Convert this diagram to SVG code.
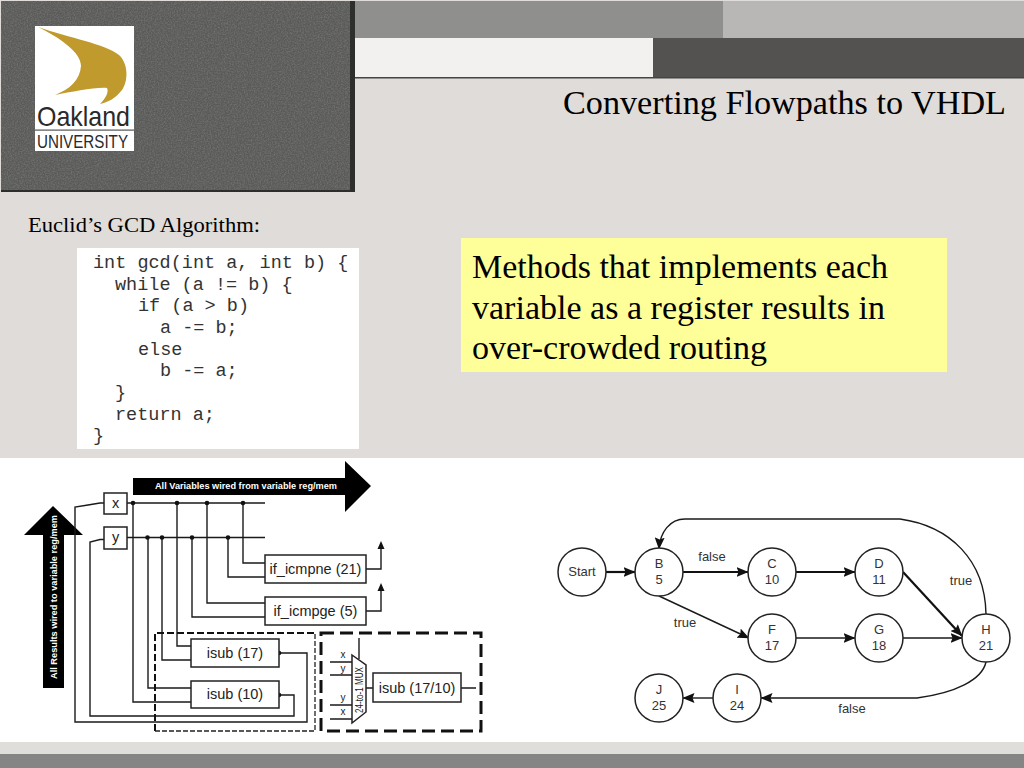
<svg xmlns="http://www.w3.org/2000/svg" width="1024" height="768" viewBox="0 0 1024 768">
<style>
.wire{fill:none;stroke:#1a1a1a;stroke-width:1.4}
.thick{fill:none;stroke:#111;stroke-width:2.2}
.box{fill:#fff;stroke:#222;stroke-width:1.5}
.node{fill:#fff;stroke:#222;stroke-width:1.5}
.lab{font-family:"Liberation Sans",Arial,sans-serif;font-size:13px;fill:#333;text-anchor:middle}
.blab{font-family:"Liberation Sans",Arial,sans-serif;font-size:14.500px;fill:#222;text-anchor:middle}
.small{font-family:"Liberation Sans",Arial,sans-serif;font-size:10px;fill:#222;text-anchor:middle}
.ser{font-family:"Liberation Serif","Times New Roman",serif;fill:#000}
.logo{font-family:"Liberation Sans",Arial,sans-serif;fill:#2a2a2a}
.code{font-family:"Liberation Mono","Courier New",monospace;font-size:18.500px;fill:#333}
.bar{font-family:"Liberation Sans",Arial,sans-serif;font-weight:bold;fill:#fff;text-anchor:middle}
</style>
<defs>
<marker id="ah" viewBox="0 0 12 10" refX="11.500" refY="5" markerWidth="12" markerHeight="10" markerUnits="userSpaceOnUse" orient="auto"><path d="M0 0L12 5L0 10L2 5Z" fill="#111"/></marker>
<filter id="grain" x="0" y="0" width="100%" height="100%"><feTurbulence type="fractalNoise" baseFrequency="0.7" numOctaves="2" seed="4"/><feColorMatrix type="matrix" values="0 0 0 0 .42 0 0 0 0 .42 0 0 0 0 .42 1.600 0 0 0 -.55"/></filter>
</defs>

<g id="background">
<rect width="1024" height="768" fill="#e0dcd9"/>
<rect x="0" y="458" width="1024" height="284" fill="#fff"/>
<rect x="0" y="742" width="1024" height="12" fill="#dfdeda"/>
<rect x="0" y="754" width="1024" height="14" fill="#858585"/>
<rect x="1" y="1" width="350" height="190" fill="#5a5b59"/>
<rect x="1" y="1" width="350" height="190" filter="url(#grain)" opacity=".35"/>
<rect x="350" y="1" width="5" height="191" fill="#2c2f2c"/>
<rect x="1" y="190" width="354" height="2" fill="#2c2f2c"/>
<rect x="355" y="1" width="368" height="37" fill="#8f8f8d"/>
<rect x="723" y="1" width="301" height="37" fill="#b9b7b5"/>
<rect x="355" y="38" width="298" height="39" fill="#f2f1f0"/>
<rect x="653" y="38" width="371" height="39" fill="#545250"/>
<rect x="355" y="77" width="669" height="1.500" fill="#444"/>
</g>

<g id="logo">
<rect x="35" y="26" width="99" height="125" fill="#fff"/>
<path d="M38 27C70 38 105 44 119 55C129 64 128 82 122 90C115 99 108 102 100 104C106 98 109 92 107 88C95 87 72 92 55 95C70 89 80 80 81 66C81 52 60 38 38 27Z" fill="#c09a2c"/>
<text x="37" y="126" class="logo" font-size="28" textLength="93" lengthAdjust="spacingAndGlyphs">Oakland</text>
<rect x="35" y="129.500" width="99" height="1.200" fill="#555"/>
<text x="37" y="148" class="logo" font-size="18" textLength="91" lengthAdjust="spacingAndGlyphs">UNIVERSITY</text>
</g>

<g id="title"><text x="563" y="114" class="ser" font-size="34" textLength="443" lengthAdjust="spacingAndGlyphs">Converting Flowpaths to VHDL</text></g>
<g id="subtitle"><text x="28" y="232" class="ser" font-size="21" textLength="232" lengthAdjust="spacingAndGlyphs">Euclid’s GCD Algorithm:</text></g>

<g id="code">
<rect x="77" y="248" width="282" height="201" fill="#fff"/>
<text x="93" y="268" class="code">int gcd(int a, int b) {</text>
<text x="115" y="290" class="code">while (a != b) {</text>
<text x="138" y="311" class="code">if (a &gt; b)</text>
<text x="160" y="333" class="code">a -= b;</text>
<text x="138" y="355" class="code">else</text>
<text x="160" y="376" class="code">b -= a;</text>
<text x="115" y="398" class="code">}</text>
<text x="115" y="420" class="code">return a;</text>
<text x="93" y="441" class="code">}</text>
</g>

<g id="note">
<rect x="461" y="238" width="486" height="134" fill="#ffff99"/>
<text x="472" y="278" class="ser" font-size="34" textLength="416" lengthAdjust="spacingAndGlyphs">Methods that implements each</text>
<text x="472" y="319" class="ser" font-size="34" textLength="413" lengthAdjust="spacingAndGlyphs">variable as a register results in</text>
<text x="472" y="359" class="ser" font-size="34" textLength="295" lengthAdjust="spacingAndGlyphs">over-crowded routing</text>
</g>

<g id="bus-arrows">
<path d="M133 478H345V461L371 486L345 512V495H133Z" fill="#000"/>
<text x="246" y="489" class="bar" font-size="9" textLength="182" lengthAdjust="spacingAndGlyphs">All Variables wired from variable reg/mem</text>
<path d="M53 506L83 535H64V688H43V535H24Z" fill="#000"/>
<text transform="translate(57 597) rotate(-90)" class="bar" font-size="9" textLength="164" lengthAdjust="spacingAndGlyphs">All Results wired to variable reg/mem</text>
</g>

<g id="connectors">
<g id="circuit-wires">
<path class="wire" d="M127 503H265M127 537.500H265"/>
<path class="wire" d="M104 503H100L88 505L75 507V722H307V653H279"/>
<path class="wire" d="M104 539.500H100L90 542V716H294V695H279"/>
<path class="wire" d="M133 503V702H191M148 537.500V688H191M162 537.500V660H191M177 503V646H191"/>
<path class="wire" d="M192 537.500V617H265M207 503V603H265M228 537.500V577H265M243 503V563H265"/>
<path class="wire" d="M366 569H381V546M366 611H381V588"/>
<path d="M381 541L384.500 549H377.500Z M381 583L384.500 591H377.500Z" fill="#111"/>
<path class="wire" d="M359 638V659M330 662H352M330 675H352M330 705H352M330 719H352M366 688H373M461 688H476"/>
<g fill="#111">
<circle cx="133" cy="503" r="2.300"/><circle cx="177" cy="503" r="2.300"/><circle cx="207" cy="503" r="2.300"/><circle cx="243" cy="503" r="2.300"/>
<circle cx="147.500" cy="537.500" r="2.300"/><circle cx="162" cy="537.500" r="2.300"/><circle cx="192" cy="537.500" r="2.300"/><circle cx="228" cy="537.500" r="2.300"/>
<circle cx="279" cy="653" r="2.300"/><circle cx="279" cy="695" r="2.300"/>
</g>
</g>
<g id="flow-edges">
<path class="thick" marker-end="url(#ah)" d="M606 572H635"/>
<path class="thick" marker-end="url(#ah)" d="M683 572H748"/>
<path class="thick" marker-end="url(#ah)" d="M796 572H855"/>
<path class="wire" marker-end="url(#ah)" d="M659 596L749 638"/>
<path class="wire" marker-end="url(#ah)" d="M796 638H855"/>
<path class="wire" marker-end="url(#ah)" d="M903 638H962"/>
<path class="thick" marker-end="url(#ah)" d="M903 572L962 636"/>
<path class="wire" marker-end="url(#ah)" d="M986 614C985 560 950 526 900 519H685C670 519 660 532 659 549"/>
<path class="wire" marker-end="url(#ah)" d="M986 662C982 680 955 693 917 698H761"/>
<path class="wire" marker-end="url(#ah)" d="M713 698H683"/>
</g>
</g>

<g id="frame-left">
<path d="M155 731H315V633" fill="none" stroke="#222" stroke-width="1.300" stroke-dasharray="5 2"/>
<path d="M155 731V633H315" fill="none" stroke="#111" stroke-width="2" stroke-dasharray="7 3"/>
</g>
<g id="frame-right"><rect x="321" y="633" width="160" height="98" fill="none" stroke="#111" stroke-width="3" stroke-dasharray="13 6"/></g>

<g id="reg-x"><rect class="box" x="104" y="493" width="23" height="21"/><text x="115.500" y="508" class="blab">x</text></g>
<g id="reg-y"><rect class="box" x="104" y="527" width="23" height="22"/><text x="115.500" y="542" class="blab">y</text></g>
<g id="if-icmpne"><rect class="box" x="265" y="555" width="101" height="28"/><text x="315.500" y="574" class="blab">if_icmpne (21)</text></g>
<g id="if-icmpge"><rect class="box" x="265" y="597" width="101" height="28"/><text x="315.500" y="616" class="blab">if_icmpge (5)</text></g>
<g id="isub-17"><rect class="box" x="191" y="639" width="88" height="28"/><text x="235" y="658" class="blab">isub (17)</text></g>
<g id="isub-10"><rect class="box" x="191" y="681" width="88" height="27"/><text x="235" y="699" class="blab">isub (10)</text></g>
<g id="isub-17-10"><rect class="box" x="373" y="673" width="88" height="29"/><text x="417" y="693" class="blab">isub (17/10)</text></g>
<g id="mux">
<path class="box" d="M352 655L366 665V712L352 723Z"/>
<text x="343" y="658" class="small">x</text><text x="343" y="672" class="small">y</text><text x="343" y="701" class="small">y</text><text x="343" y="715" class="small">x</text>
<text transform="translate(363 690) rotate(-90)" class="small" textLength="46" lengthAdjust="spacingAndGlyphs">24-to-1 MUX</text>
</g>

<g id="n-start"><circle class="node" cx="582" cy="572" r="24"/><text x="582" y="576" class="lab">Start</text></g>
<g id="n-b"><circle class="node" cx="659" cy="572" r="24"/><text x="659" y="568" class="lab">B</text><text x="659" y="584" class="lab">5</text></g>
<g id="n-c"><circle class="node" cx="772" cy="572" r="24"/><text x="772" y="568" class="lab">C</text><text x="772" y="584" class="lab">10</text></g>
<g id="n-d"><circle class="node" cx="879" cy="572" r="24"/><text x="879" y="568" class="lab">D</text><text x="879" y="584" class="lab">11</text></g>
<g id="n-f"><circle class="node" cx="772" cy="638" r="24"/><text x="772" y="634" class="lab">F</text><text x="772" y="650" class="lab">17</text></g>
<g id="n-g"><circle class="node" cx="879" cy="638" r="24"/><text x="879" y="634" class="lab">G</text><text x="879" y="650" class="lab">18</text></g>
<g id="n-h"><circle class="node" cx="986" cy="638" r="24"/><text x="986" y="634" class="lab">H</text><text x="986" y="650" class="lab">21</text></g>
<g id="n-j"><circle class="node" cx="659" cy="698" r="24"/><text x="659" y="694" class="lab">J</text><text x="659" y="710" class="lab">25</text></g>
<g id="n-i"><circle class="node" cx="737" cy="698" r="24"/><text x="737" y="694" class="lab">I</text><text x="737" y="710" class="lab">24</text></g>

<g id="edge-labels">
<text x="712" y="561" class="lab">false</text>
<text x="685" y="627" class="lab">true</text>
<text x="961" y="585" class="lab">true</text>
<text x="852" y="713" class="lab">false</text>
</g>
</svg>
